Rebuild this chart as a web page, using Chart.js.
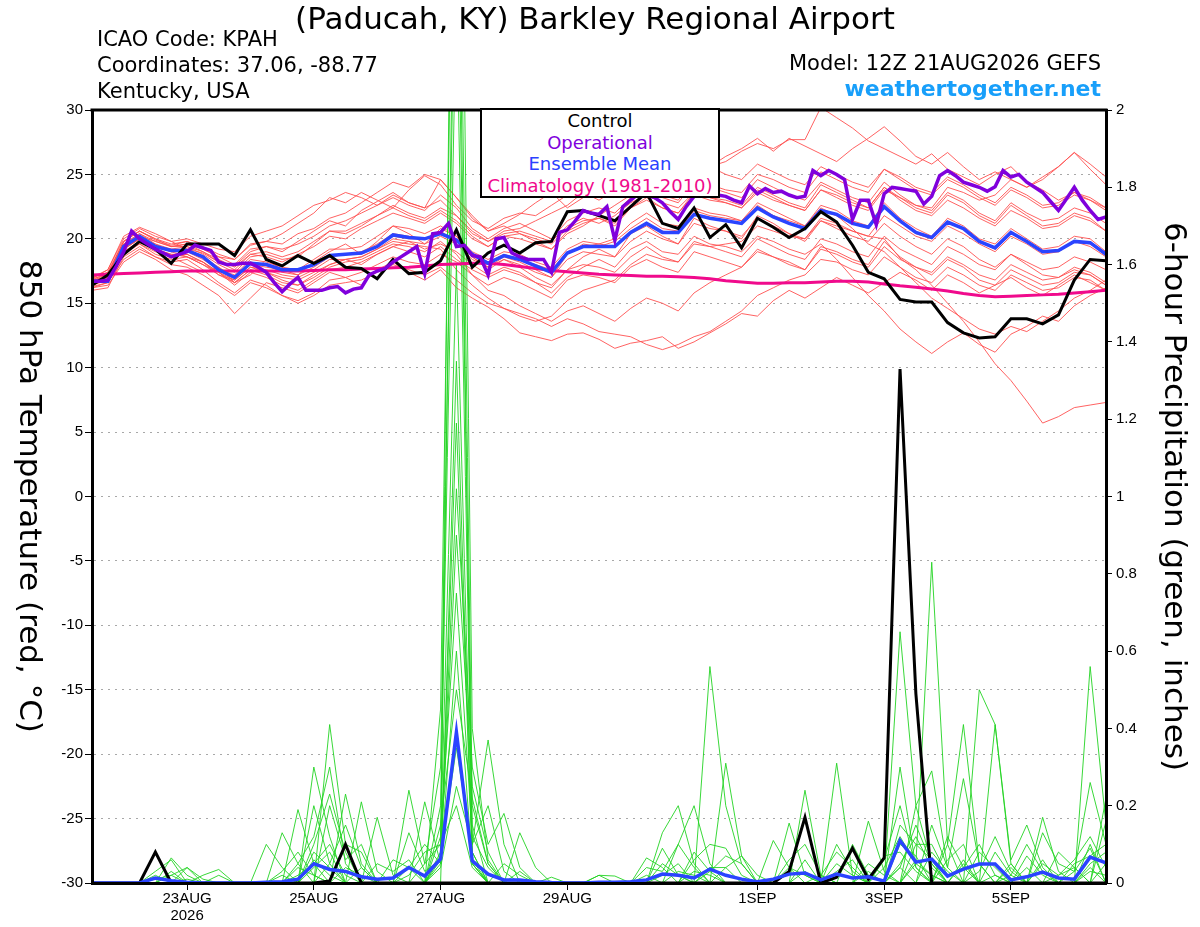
<!DOCTYPE html>
<html>
<head>
<meta charset="utf-8">
<title>KPAH GEFS plume</title>
<script src="https://cdn.jsdelivr.net/npm/chart.js@4.4.1/dist/chart.umd.min.js"></script>
<style>
  body { margin: 0; background: #fff; }
  #wrap { position: relative; width: 1200px; height: 927px; font-family: "DejaVu Sans", sans-serif; color: #000; }
  #plume { position: absolute; left: 0; top: 0; }
  .txt { position: absolute; white-space: nowrap; line-height: 1; }
  #title { left: 0; width: 1190px; top: 3px; font-size: 31px; text-align: center; }
  .info { left: 97px; font-size: 21px; }
  .right { right: 99px; text-align: right; }
  #site { font-size: 22px; font-weight: bold; color: #189ffa; }
  #legend { position: absolute; left: 480px; top: 108px; width: 240px; height: 90px; box-sizing: border-box;
            border: 2px solid #000; background: #fff; font-size: 18px; line-height: 21.5px; text-align: center; }
  #ylab { position: absolute; left: 13px; top: 110px; width: 36px; height: 773px; writing-mode: vertical-rl;
          font-size: 31px; line-height: 36px; text-align: center; white-space: nowrap; }
</style>
</head>
<body>
<div id="wrap">
  <canvas id="plume" width="1200" height="927"></canvas>
  <div class="txt" id="title">(Paducah, KY) Barkley Regional Airport</div>
  <div class="txt info" style="top:29px">ICAO Code: KPAH</div>
  <div class="txt info" style="top:55px">Coordinates: 37.06, -88.77</div>
  <div class="txt info" style="top:81px">Kentucky, USA</div>
  <div class="txt info right" style="top:53px">Model: 12Z 21AUG2026 GEFS</div>
  <div class="txt right" id="site" style="top:78px">weathertogether.net</div>
  <div id="legend">
    <div style="color:#000">Control</div>
    <div style="color:#8000dc">Operational</div>
    <div style="color:#2a40ff">Ensemble Mean</div>
    <div style="color:#f00a8c">Climatology (1981-2010)</div>
  </div>
  <div id="ylab">850 hPa Temperature (red, °C)</div>
</div>

<script>
// forecast hours: 6-hourly from 12Z 21AUG2026 (0..384h); operational run is 3-hourly
const stepHours = 6;
const opStepHours = 3;

const tickHours = [36, 84, 132, 180, 252, 300, 348];
const tickLabels = [['23AUG', '2026'], '25AUG', '27AUG', '29AUG', '1SEP', '3SEP', '5SEP'];

// 850 hPa temperature (C), ensemble members
const tempM01 = [16.5,17.2,19.8,20.6,19.9,19.5,19.8,19.2,18.6,18.4,19.5,19.8,20.4,
  21.2,22.0,23.2,22.8,23.6,23.0,22.4,23.8,24.9,24.2,22.6,21.4,20.8,
  21.6,22.0,21.8,22.6,23.4,24.0,24.6,25.0,25.8,26.4,25.6,25.2,26.2,
  25.6,26.0,26.8,27.4,27.0,27.7,27.7,30.2,29.4,28.6,27.6,27.0,26.4,
  25.8,26.6,25.4,24.8,24.2,25.0,25.6,24.4,23.8,23.0,23.6,23.0,22.4];
const tempM02 = [16.9,17.6,20.2,20.9,20.4,19.8,19.2,18.9,18.2,17.9,19.0,19.4,19.0,
  19.8,20.6,21.4,21.0,22.2,22.9,23.6,22.8,22.4,24.6,23.2,21.8,20.6,
  21.2,21.9,22.8,23.6,22.4,23.2,24.2,23.8,24.8,25.4,26.2,25.6,25.0,
  25.6,26.4,27.0,27.8,26.8,27.8,27.2,26.6,26.0,27.0,27.8,28.7,27.6,
  26.4,25.8,26.7,25.6,24.6,25.2,24.6,24.0,24.8,25.6,26.7,25.4,24.2];
const tempM03 = [16.2,16.4,18.2,19.0,18.4,17.6,17.2,16.4,15.6,14.2,15.4,16.6,16.2,
  15.8,16.6,17.4,17.0,16.4,17.6,18.2,17.4,16.8,17.6,16.2,15.4,14.7,
  13.8,12.7,12.4,12.1,12.6,12.7,12.2,11.5,11.9,12.1,12.4,11.5,12.0,
  12.7,13.4,14.2,14.0,15.2,16.0,15.4,16.2,17.0,16.4,15.8,16.6,17.4,
  16.8,16.0,17.2,16.6,15.8,16.4,17.0,16.2,15.6,16.4,17.2,16.6,16.0];
const tempM04 = [16.8,17.0,19.0,19.8,19.2,18.6,18.0,17.4,17.8,16.6,17.2,18.4,17.6,
  17.2,18.2,19.0,19.6,18.8,19.8,21.0,20.4,19.6,20.8,20.2,18.6,17.6,
  18.4,17.8,17.0,16.4,17.6,18.6,19.2,18.6,20.4,21.0,20.2,19.6,21.6,
  21.0,20.6,20.0,21.8,21.2,20.4,19.8,21.4,21.0,20.6,20.2,20.0,18.5,
  17.6,16.4,15.0,13.6,12.0,10.3,9.0,7.4,5.7,6.2,6.9,7.1,7.3];
const tempM05 = [16.4,16.9,19.2,20.0,19.6,19.0,18.6,18.2,17.2,16.8,17.8,17.4,16.8,
  16.4,17.2,18.0,18.4,18.0,18.8,19.4,19.8,19.2,19.6,19.0,18.0,17.2,
  17.8,17.4,16.6,15.8,17.0,17.8,18.4,17.8,19.2,19.8,19.0,18.8,20.2,
  19.6,19.4,19.0,20.2,19.8,19.2,18.8,19.6,18.4,17.0,15.6,14.4,13.0,
  12.0,11.1,12.0,12.7,11.8,11.2,12.6,13.2,14.0,13.6,14.8,15.6,16.2];
const tempM06 = [17.0,17.4,19.6,20.4,19.8,19.4,19.6,19.0,18.4,17.8,18.8,18.6,18.2,
  18.8,19.4,20.2,20.0,20.8,21.4,22.0,21.6,21.2,22.0,21.2,20.0,19.4,
  20.2,20.0,19.6,19.2,20.6,21.2,21.6,21.0,22.4,23.2,22.4,22.0,23.6,
  23.2,23.0,22.6,24.0,23.4,22.8,22.4,24.2,23.6,23.0,22.4,24.0,23.2,
  22.4,22.0,23.4,22.8,21.8,21.2,22.6,21.8,21.0,21.2,22.0,21.6,20.6];
const tempM07 = [16.6,17.0,19.4,20.0,19.4,19.0,19.2,18.6,17.8,17.0,18.2,18.0,17.4,
  17.2,17.8,18.6,18.8,19.0,19.6,20.4,20.2,20.0,20.6,19.8,18.6,17.8,
  18.6,18.2,17.6,17.0,18.8,19.6,19.4,19.8,20.8,21.6,20.8,20.6,22.2,
  21.8,21.6,21.4,22.6,21.8,21.4,21.0,22.6,22.2,21.4,21.0,22.8,21.6,
  20.8,20.2,21.6,21.0,20.0,19.6,20.8,20.0,19.2,19.4,20.2,20.0,19.0];
const tempM08 = [16.0,16.2,18.6,19.4,18.6,18.2,18.4,17.6,16.6,15.8,16.8,16.4,15.6,
  15.2,15.8,16.8,17.0,17.4,18.0,18.6,18.2,18.0,18.8,18.2,17.2,16.4,
  17.0,16.6,16.0,15.4,16.8,17.2,17.0,16.6,17.8,18.4,17.8,17.4,19.0,
  18.6,18.2,17.8,19.2,18.6,18.2,17.6,19.4,19.0,18.4,18.0,19.8,18.6,
  17.8,17.4,18.6,18.0,17.2,16.8,18.0,17.4,16.8,17.0,17.8,17.4,16.6];
const tempM09 = [16.8,17.4,19.8,20.6,20.0,19.6,19.8,19.4,18.8,18.4,19.6,19.8,19.6,
  20.4,20.8,21.6,22.0,22.8,23.6,24.4,24.0,25.0,24.6,23.2,21.6,20.6,
  21.0,20.4,19.8,19.2,20.4,21.0,21.8,22.6,23.4,24.0,23.2,22.8,24.4,
  24.0,23.6,23.2,24.6,24.0,23.4,23.0,24.4,23.8,23.2,22.8,24.4,23.4,
  22.6,22.2,23.6,23.0,22.0,21.4,22.8,22.0,21.4,21.6,22.4,22.0,21.2];
const tempM10 = [16.6,16.8,19.0,19.6,18.8,18.4,18.6,18.0,17.4,16.6,17.6,17.2,16.6,
  16.4,17.0,17.8,18.2,18.4,19.0,19.6,19.4,19.0,19.8,18.8,17.2,16.0,
  15.6,14.8,14.2,13.6,14.4,14.8,14.2,13.6,14.6,15.4,15.0,14.4,15.8,
  16.6,17.2,17.8,19.0,18.6,18.0,17.6,19.2,18.8,18.2,17.8,19.4,18.4,
  17.8,17.2,18.4,17.8,16.8,16.4,17.6,17.0,16.4,16.6,17.4,17.2,16.4];
const tempM11 = [16.9,17.2,19.6,20.4,19.6,19.2,19.4,18.8,18.0,17.4,18.6,18.8,18.4,
  18.6,19.6,20.6,20.4,21.0,21.8,22.6,22.0,21.6,22.4,21.8,20.4,19.8,
  20.6,20.8,21.4,22.0,22.6,23.6,23.0,23.8,24.6,25.6,24.8,24.4,25.4,
  25.6,25.0,24.6,25.8,25.2,24.6,24.2,25.6,25.0,24.4,24.0,25.4,24.8,
  24.0,23.6,24.8,24.2,23.4,22.8,24.0,23.4,22.6,22.8,23.6,23.2,22.4];
const tempM12 = [16.3,16.6,18.8,19.6,19.0,18.6,18.8,18.2,17.4,16.4,17.4,17.0,16.4,
  16.0,16.8,17.6,17.8,18.2,18.8,19.4,19.0,18.6,19.4,18.4,17.6,17.0,
  17.6,17.2,16.6,16.2,17.6,18.0,17.8,17.4,18.6,19.4,18.6,18.2,19.8,
  19.4,19.0,18.6,20.0,19.4,18.8,18.4,20.0,19.6,19.0,18.6,20.2,19.2,
  18.6,18.0,19.4,18.8,18.0,17.6,18.8,18.2,17.6,17.8,18.6,18.2,17.6];
const tempM13 = [16.7,17.0,19.2,20.0,19.4,19.0,19.0,18.4,17.6,17.2,18.4,18.2,17.8,
  17.6,18.4,19.2,19.2,19.4,20.2,21.0,20.8,20.4,21.0,20.2,19.0,18.4,
  19.0,18.8,18.2,17.8,19.2,19.8,19.6,20.0,21.2,22.0,21.2,21.0,22.4,
  22.0,21.8,21.4,22.8,22.2,21.6,21.0,22.4,21.8,20.8,19.6,19.0,17.8,
  16.6,15.4,14.6,13.8,13.0,12.6,13.2,12.8,13.6,14.4,15.4,16.0,16.8];
const tempM14 = [16.5,17.1,19.6,20.2,19.8,19.4,19.6,19.2,18.6,18.0,19.2,19.4,19.2,
  19.6,20.2,21.0,21.4,22.0,22.6,23.2,22.6,22.2,23.4,22.4,20.8,20.0,
  20.8,21.2,20.6,20.0,21.4,22.0,22.4,22.0,23.2,24.0,23.4,23.0,24.6,
  24.2,23.8,23.6,25.0,24.6,24.0,23.6,25.2,24.6,24.0,23.6,25.4,24.6,
  23.8,23.4,24.6,24.0,23.2,22.6,23.8,23.2,22.4,22.6,23.4,23.0,22.2];
const tempM15 = [16.8,17.0,19.4,20.2,19.4,19.2,19.0,18.6,17.6,17.0,18.0,17.8,17.6,
  17.6,18.0,18.6,18.8,18.8,19.4,20.2,20.0,20.0,20.4,20.0,18.8,18.2,
  18.8,18.4,18.0,17.6,19.0,19.4,19.6,19.4,20.6,21.2,20.6,20.4,22.0,
  21.6,21.4,21.2,22.4,21.8,21.2,20.8,22.2,21.8,21.2,20.8,22.4,21.4,
  20.4,20.0,21.2,20.8,19.8,19.2,20.4,19.8,19.0,19.0,19.8,19.6,18.8];
const tempM16 = [16.4,16.8,19.0,19.8,19.2,18.8,18.6,18.0,17.2,16.6,17.6,17.4,17.0,
  16.8,17.4,18.0,18.4,18.6,19.2,19.8,19.6,19.4,19.2,17.6,16.4,15.4,
  14.6,14.0,13.6,14.0,15.2,16.0,16.4,16.8,18.0,18.8,18.4,18.2,19.6,
  19.4,19.6,19.8,21.0,20.6,20.2,20.0,21.6,21.2,20.6,20.2,21.8,21.0,
  20.2,19.8,21.0,20.4,19.6,19.0,20.2,19.6,18.8,19.0,19.8,19.4,18.6];
const tempM17 = [16.2,16.6,18.4,19.2,18.6,18.0,17.8,17.2,16.4,15.6,16.6,16.2,15.6,
  15.0,15.6,16.4,16.6,16.8,17.4,18.0,17.6,17.2,17.8,16.8,15.8,15.0,
  14.6,14.2,13.8,13.2,13.8,13.4,12.8,12.6,12.4,11.8,11.4,11.8,12.4,
  12.8,13.6,14.4,15.6,16.2,16.8,17.2,18.4,18.2,17.6,17.2,18.6,17.8,
  17.0,16.6,17.8,17.2,16.4,16.0,17.2,16.6,16.0,16.2,17.0,16.8,16.0];
const tempM18 = [17.0,17.6,20.0,20.8,20.2,19.8,20.0,19.6,19.2,19.0,20.2,20.6,21.0,
  21.8,22.6,23.0,23.6,23.2,22.6,23.4,22.8,22.4,23.0,21.8,20.6,19.8,
  20.4,20.6,20.2,19.8,21.0,21.6,21.2,21.8,22.8,23.4,22.8,22.4,23.6,
  23.2,22.8,22.4,23.8,23.2,22.6,22.2,23.8,23.4,22.8,22.4,24.0,23.0,
  22.2,21.8,23.0,22.4,21.6,21.0,22.2,21.6,20.8,21.0,21.8,21.4,20.6];
const tempM19 = [16.6,16.9,19.2,20.0,19.2,18.8,18.8,18.2,17.4,16.8,17.8,17.6,17.2,
  17.0,17.6,18.4,18.4,18.6,19.2,20.0,19.8,19.6,20.2,19.6,18.4,17.8,
  18.4,18.0,17.4,17.0,18.4,19.0,18.8,18.6,19.8,20.6,20.0,19.6,21.2,
  20.8,20.6,20.2,21.6,21.0,20.4,20.0,21.4,20.8,20.2,19.8,21.2,20.2,
  19.4,18.8,20.0,19.4,18.4,17.8,18.8,18.0,17.2,17.0,17.6,17.2,16.4];
const tempM20 = [16.7,17.3,19.8,20.6,20.0,19.4,19.4,19.0,18.2,17.6,18.8,19.0,18.6,
  19.0,19.8,20.6,20.6,21.2,21.8,22.4,21.8,21.4,22.2,21.4,20.2,19.4,
  20.2,20.4,20.0,19.6,20.8,21.4,21.6,21.2,22.4,23.0,22.4,22.0,23.4,
  23.0,22.8,22.4,23.6,23.0,22.6,22.2,23.8,23.2,22.6,22.2,23.8,23.2,
  22.6,22.4,24.0,23.6,23.0,23.4,24.6,24.0,24.6,25.6,26.7,25.8,24.8];

// 6-hour precipitation (inches), ensemble members
const precM01 = [0,0,0,0,.03,.06,0,0,0,0,0,0,0,
  0,.3,.12,0,0,0,0,0,0,.45,3.2,.2,.05,
  0,0,0,0,0,0,0,0,0,0,0,0,0,
  .56,.2,.05,0,0,0,0,0,0,0,0,0,.65,
  .2,.05,0,0,0,0,0,0,0,0,0,.1,0];
const precM02 = [0,0,0,0,0,.02,.04,0,0,0,0,0,0,
  0,0,.41,.1,0,0,0,0,.05,.3,2.6,.15,0,
  0,0,0,0,0,0,0,0,0,0,.13,.2,.05,
  0,0,0,0,0,0,.24,.02,0,0,0,0,0,
  .05,.83,.1,0,0,.02,0,0,0,0,0,.56,.15];
const precM03 = [0,0,0,0,.02,0,0,0,0,0,0,0,0,
  .19,.05,0,.23,.05,0,0,0,0,.2,2.3,.1,.37,
  .1,0,0,0,0,0,0,0,0,0,0,.1,.2,
  .05,0,0,0,0,0,0,0,.31,.02,0,0,0,
  0,0,.1,.41,.05,0,0,0,0,0,.03,.26,.1];
const precM04 = [0,0,0,0,0,0,0,.02,.035,0,0,0,.13,
  .05,0,0,0,.21,.03,0,.24,.05,.1,1.6,.08,0,
  0,.13,.04,0,0,0,0,0,0,0,0,0,0,
  0,.31,.07,0,0,.155,.02,0,0,0,0,0,.3,
  .04,0,0,0,.5,.41,.05,0,0,0,0,0,.22];
const precM05 = [0,0,0,0,0,.065,.02,0,0,0,0,.1,.04,
  0,.2,.05,0,0,.17,.02,0,.21,.05,1.19,.06,0,
  0,0,0,0,0,0,0,0,0,0,.09,.02,0,
  0,0,0,0,.11,.04,0,0,0,0,.16,.03,0,
  .2,.29,.04,.27,.05,0,0,0,.17,.03,0,0,0];
const precM06 = [0,0,0,0,0,0,.04,.01,0,0,0,0,0,
  0,.1,.23,.08,0,0,0,.13,.03,.06,1.02,.3,.1,
  .18,.04,0,0,0,0,0,0,0,.04,.03,.1,.04,
  0,0,0,0,0,0,0,0,0,.1,.02,0,.1,
  .07,0,0,.05,0,.41,.06,.15,.04,0,0,0,0];
const precM07 = [0,0,0,0,0,0,0,0,0,0,0,0,0,
  .05,.12,.3,.05,0,0,.06,.04,0,.12,.75,.12,.04,
  0,0,0,0,0,0,.02,.018,0,0,0,0,.06,
  .1,.09,.02,0,0,0,0,0,0,0,0,.07,.08,
  .03,0,.06,.1,0,0,.04,0,.13,.05,.03,.09,0];
const precM08 = [0,0,0,0,0,0,0,0,.02,0,0,0,0,
  0,0,.2,.06,.1,0,0,0,0,.08,2.9,.05,0,
  .05,.02,0,0,0,0,0,0,0,0,0,0,0,
  .03,.07,.05,0,0,0,.06,0,.05,.02,0,0,.15,
  .1,.06,0,0,0,0,0,.04,0,.08,.04,0,.05];
const precM09 = [0,0,0,0,.01,.02,0,0,0,0,0,0,.03,
  .08,.02,0,.1,.08,0,0,0,0,.15,.5,.22,.05,
  0,0,0,.015,0,0,0,0,0,0,.05,.02,0,
  0,0,0,0,0,0,0,.02,.08,.04,0,.04,.12,
  .05,.02,0,0,.08,.04,0,0,0,0,.05,.07,.1];
const precM10 = [0,0,0,0,0,0,0,0,0,0,0,0,0,
  0,.04,.08,0,0,.05,.03,.06,0,.07,.35,.08,0,
  0,0,0,0,0,0,0,0,0,.065,.04,0,0,
  0,0,0,0,0,.04,.02,0,0,0,.05,.02,0,
  0,.15,.04,0,0,0,.02,.1,.03,0,0,.04,0];
const precM11 = [0,0,0,0,0,0,.01,0,0,0,0,0,0,
  0,.06,.02,0,.04,0,0,0,0,.04,.25,.1,.2,
  .03,0,0,0,0,0,0,0,0,0,0,.03,.02,
  0,0,0,0,0,0,0,0,.03,.06,0,0,.05,
  .12,.04,0,0,0,.08,.02,0,0,.02,.06,.12,.04];
const precM12 = [0,0,0,0,0,0,0,0,0,0,0,0,0,
  .02,.05,.1,.02,0,0,0,.04,.1,.05,.6,.05,0,
  0,.03,0,0,0,0,0,0,0,0,0,0,0,
  .04,.04,0,0,0,.06,.1,.02,0,0,0,0,0,
  .1,.1,.02,.04,.1,.02,0,0,0,0,0,0,.16];
const precM13 = [0,0,0,0,0,.03,0,0,0,0,0,0,0,
  0,0,.05,.15,.04,0,0,0,0,0,1.35,.05,0,
  0,0,0,0,0,0,.02,0,0,0,0,0,.08,
  .03,0,0,0,0,0,0,0,0,0,0,.06,.2,
  .04,0,.12,.04,0,0,0,.07,.02,0,0,0,0];
const precM14 = [0,0,0,0,0,0,0,0,0,0,0,0,0,
  0,.08,.04,0,0,0,0,0,0,.05,3.8,.4,.06,
  0,0,0,0,0,0,0,0,0,0,0,0,0,
  0,.04,.07,.02,0,0,0,0,0,0,0,0,.04,
  .15,.05,0,0,.03,.12,.03,0,0,0,0,.05,.08];
const precM15 = [0,0,0,0,0,0,0,0,0,0,0,0,0,
  .04,.02,0,0,0,0,0,.02,.08,.1,.2,.04,0,
  0,0,0,0,0,0,0,0,0,0,.02,.05,0,
  0,0,0,0,0,0,.03,0,.1,.03,0,0,0,
  .06,.02,0,.06,0,0,0,0,.05,.02,.04,0,0];
const precM16 = [0,0,0,0,0,0,0,0,0,0,0,0,.02,
  0,0,0,.04,.02,0,0,0,0,.06,.9,.25,.08,
  0,0,0,0,0,0,0,0,0,.02,0,0,.03,
  .02,0,0,0,0,0,0,0,0,0,.03,0,.04,
  0,.08,.03,0,0,0,.05,0,.06,0,0,.03,.02];

// highlighted lines
const controlTemp = [16.4,17.2,18.8,19.8,19.2,18.1,19.6,19.6,19.6,18.7,20.7,18.4,17.9,
  18.7,18.1,18.7,17.8,17.7,16.9,18.4,17.3,17.4,18.3,20.7,17.8,18.9,
  19.5,18.9,19.7,19.8,22.1,22.2,21.8,21.4,22.5,23.6,21.2,20.8,22.4,
  20.1,21.1,19.3,21.6,20.9,20.1,20.8,22.1,21.3,19.5,17.4,16.9,15.3,
  15.1,15.1,13.5,12.7,12.3,12.4,13.8,13.8,13.4,14.1,16.8,18.4,18.3];
const meanTemp = [16.7,16.7,19.4,20.2,19.4,19.1,19.1,18.6,17.6,17.0,18.1,18.0,17.6,
  17.6,18.0,18.7,18.8,18.9,19.4,20.3,20.1,20.0,20.4,19.9,18.8,18.1,
  18.7,18.4,17.9,17.4,18.9,19.4,19.4,19.4,20.5,21.2,20.5,20.5,21.9,
  21.6,21.4,21.2,22.4,21.7,21.2,20.8,22.2,21.9,21.2,20.9,22.5,21.4,
  20.5,20.1,21.3,20.8,19.8,19.3,20.5,19.8,19.0,19.1,19.8,19.7,18.8];
const climoTemp = [17.2,17.25,17.3,17.35,17.4,17.45,17.5,17.5,17.5,17.5,17.5,17.5,17.5,
  17.5,17.55,17.6,17.6,17.65,17.7,17.75,17.8,17.9,18.0,18.05,18.1,18.1,
  18.0,17.85,17.7,17.55,17.45,17.35,17.25,17.2,17.15,17.1,17.1,17.05,17.0,
  16.9,16.75,16.65,16.55,16.55,16.6,16.6,16.65,16.7,16.7,16.65,16.5,16.35,
  16.25,16.1,15.95,15.75,15.6,15.5,15.55,15.6,15.65,15.7,15.8,15.9,16.0];
// operational, 3-hourly
const operTemp = [16.7,16.7,16.8,17.8,19.0,20.6,20.0,19.6,
  19.2,18.9,18.6,18.8,19.0,19.5,19.3,19.1,
  18.2,18.0,18.0,18.1,18.1,17.8,17.4,16.6,
  15.9,16.5,17.0,16.0,16.0,16.0,16.2,16.3,
  15.8,16.1,16.2,17.2,17.5,17.7,18.2,18.6,
  19.0,19.4,17.3,20.4,20.5,21.2,19.4,19.5,
  18.7,18.6,17.2,20.0,20.1,18.9,18.6,18.4,
  18.4,18.4,17.4,20.5,20.7,21.4,22.2,22.0,
  21.9,22.5,19.9,22.5,23.0,23.5,23.4,23.2,
  22.8,22.1,21.5,22.5,23.3,23.5,23.6,23.4,
  23.3,23.0,22.8,24.1,23.5,23.9,23.6,23.7,
  23.4,23.2,23.3,25.3,24.9,25.3,25.0,24.6,
  21.5,23.0,23.0,21.1,23.5,24.0,23.9,23.8,
  23.7,22.7,23.3,24.9,25.3,24.9,24.4,24.2,
  24.0,23.7,24.05,25.3,24.8,25.0,24.4,24.0,
  23.6,22.9,22.2,23.1,24.0,23.0,22.2,21.5,
  21.7];
const controlPrecip = [0,0,0,0,0.08,0,0,0,0,0,0,0,0,
  0,0,0.005,0.1,0,0,0,0,0,0,0,0,0,
  0,0,0,0,0,0,0,0,0,0,0,0,0,
  0,0,0,0,0,0.03,0.17,0,0.015,0.09,0.01,0.065,1.33,
  0.49,0,0,0,0,0,0,0,0,0,0,0,0];
const meanPrecip = [0,0,0,0,0.013,0.006,0.002,0,0,0,0,0.002,0.003,
  0.01,0.05,0.035,0.03,0.016,0.01,0.013,0.04,0.018,0.062,0.39,0.057,0.023,
  0.008,0.008,0.003,0.001,0,0,0.002,0.002,0.003,0.008,0.023,0.02,0.013,
  0.036,0.02,0.01,0.003,0.01,0.023,0.026,0.008,0.023,0.013,0.016,0.005,0.11,
  0.054,0.062,0.018,0.036,0.049,0.049,0.008,0.016,0.028,0.013,0.01,0.067,0.052];

const tempMembers = [tempM01, tempM02, tempM03, tempM04, tempM05, tempM06, tempM07, tempM08, tempM09, tempM10,
  tempM11, tempM12, tempM13, tempM14, tempM15, tempM16, tempM17, tempM18, tempM19, tempM20];
const precMembers = [precM01, precM02, precM03, precM04, precM05, precM06, precM07, precM08,
  precM09, precM10, precM11, precM12, precM13, precM14, precM15, precM16];

function toPoints(values, step) {
  return values.map((v, i) => ({ x: i * step, y: v }));
}

function line(values, step, axis, color, width, order) {
  return {
    data: toPoints(values, step),
    yAxisID: axis,
    borderColor: color,
    borderWidth: width,
    pointRadius: 0,
    tension: 0,
    fill: false,
    clip: 0,
    order: order
  };
}

const datasets = [];
tempMembers.forEach(m => datasets.push(line(m, stepHours, 'y', '#ff5050', 0.9, 50)));
precMembers.forEach(m => datasets.push(line(m, stepHours, 'y2', '#22d422', 0.9, 40)));
datasets.push(line(climoTemp, stepHours, 'y', '#f00a8c', 3, 30));
datasets.push(line(meanTemp, stepHours, 'y', '#2a44ff', 3.5, 25));
datasets.push(line(controlTemp, stepHours, 'y', '#000000', 3, 20));
datasets.push(line(operTemp, opStepHours, 'y', '#8000dc', 3.5, 15));
datasets.push(line(controlPrecip, stepHours, 'y2', '#000000', 3, 12));
datasets.push(line(meanPrecip, stepHours, 'y2', '#2a44ff', 3.5, 10));

const tickFont = { family: 'Liberation Sans', size: 15 };

// thick frame line along the top of the plot
const topFrame = {
  id: 'topFrame',
  afterDraw(chart) {
    const a = chart.chartArea;
    const ctx = chart.ctx;
    ctx.save();
    ctx.strokeStyle = '#000';
    ctx.lineWidth = 3;
    ctx.beginPath();
    ctx.moveTo(a.left - 1.5, a.top);
    ctx.lineTo(a.right + 1.5, a.top);
    ctx.stroke();
    ctx.restore();
  }
};

new Chart(document.getElementById('plume'), {
  type: 'line',
  data: { datasets: datasets },
  plugins: [topFrame],
  options: {
    responsive: false,
    animation: false,
    devicePixelRatio: 1,
    events: [],
    layout: { padding: { top: 110, left: 0, right: 0, bottom: 0 } },
    plugins: { legend: { display: false }, tooltip: { enabled: false }, title: { display: false } },
    scales: {
      x: {
        type: 'linear',
        min: 0,
        max: 384,
        afterFit: s => { s.height = 44; },
        afterBuildTicks: s => { s.ticks = tickHours.map(h => ({ value: h })); },
        ticks: {
          autoSkip: false,
          maxRotation: 0,
          padding: 0,
          color: '#000',
          font: { family: 'Liberation Sans', size: 15, lineHeight: 1.15 },
          callback: (v, i) => tickLabels[i]
        },
        grid: { drawOnChartArea: false, drawTicks: true, tickLength: 7, tickColor: '#000', tickWidth: 1 },
        border: { display: true, width: 3, color: '#000', z: 1 }
      },
      y: {
        position: 'left',
        min: -30,
        max: 30,
        afterFit: s => { s.width = 92; },
        ticks: { stepSize: 5, padding: 2, color: '#000', font: tickFont },
        grid: {
          color: c => (c.tick && Math.abs(c.tick.value) === 30) ? 'rgba(0,0,0,0)' : '#a8a8a8',
          lineWidth: 1,
          tickLength: 7,
          tickColor: '#000',
          tickWidth: 1,
          tickBorderDash: []
        },
        border: { display: true, width: 3, color: '#000', dash: [2, 5], z: 1 }
      },
      y2: {
        position: 'right',
        min: 0,
        max: 2,
        afterFit: s => { s.width = 94; },
        ticks: {
          stepSize: 0.2,
          padding: 4,
          color: '#000',
          font: tickFont,
          callback: v => String(Math.round(v * 10) / 10)
        },
        grid: { drawOnChartArea: false, tickLength: 6, tickColor: '#000', tickWidth: 1 },
        border: { display: true, width: 3, color: '#000', z: 1 },
        title: {
          display: true,
          text: '6-hour Precipitation (green, inches)',
          color: '#000',
          font: { family: 'DejaVu Sans', size: 31 },
          padding: { top: 8, bottom: 0 }
        }
      }
    }
  }
});
</script>
</body>
</html>
